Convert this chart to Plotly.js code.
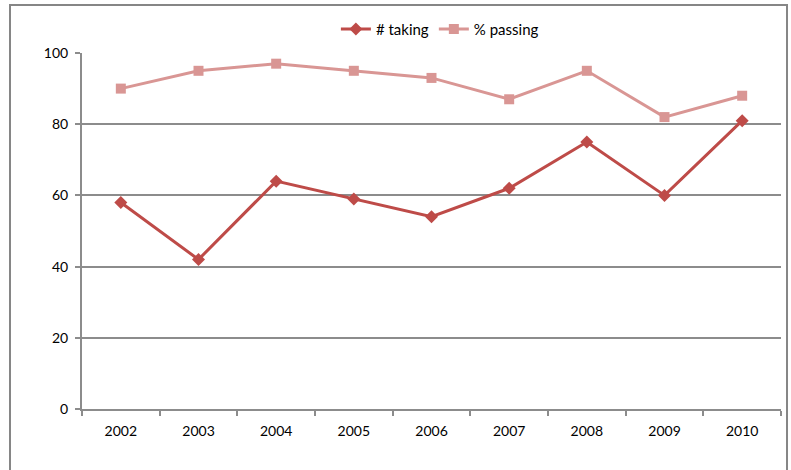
<!DOCTYPE html>
<html>
<head>
<meta charset="utf-8">
<script src="https://cdn.plot.ly/plotly-3.0.1.min.js"></script>
<style>html,body{margin:0;padding:0;background:#fff;}#chart{width:791px;height:470px;}</style>
</head>
<body>
<div id="chart"></div>
<script>
const years = ["2002","2003","2004","2005","2006","2007","2008","2009","2010"];
const taking = [58, 42, 64, 59, 54, 62, 75, 60, 81];
const passing = [90, 95, 97, 95, 93, 87, 95, 82, 88];
const yTicks = [0, 20, 40, 60, 80, 100];

const fontFam = "Lato, 'Open Sans', 'Liberation Sans', sans-serif";
const traces = [
  {
    x: years, y: taking, name: "# taking", type: "scatter", mode: "lines+markers",
    line: {color: "#BE4B48", width: 3},
    marker: {symbol: "diamond", size: 10, color: "#BE4B48"}
  },
  {
    x: years, y: passing, name: "% passing", type: "scatter", mode: "lines+markers",
    line: {color: "#D99694", width: 3},
    marker: {symbol: "square", size: 10, color: "#D99694"}
  }
];
const layout = {
  width: 791, height: 470,
  margin: {l: 82, r: 10, t: 53, b: 61},
  paper_bgcolor: "#ffffff", plot_bgcolor: "#ffffff",
  font: {family: fontFam, size: 14, color: "#000000"},
  showlegend: true,
  legend: {orientation: "h", x: 0.512, xanchor: "center", y: 1.067, yanchor: "middle",
           font: {family: fontFam, size: 15, color: "#000"}, itemwidth: 30, tracegroupgap: 0,
           bgcolor: "rgba(0,0,0,0)"},
  xaxis: {
    type: "category", range: [-0.5, 8.5], tickson: "boundaries",
    ticks: "outside", ticklen: 5, tickcolor: "#8c8c8c", tickwidth: 2,
    showline: true, linecolor: "#8c8c8c", linewidth: 2,
    showgrid: false, zeroline: false, fixedrange: true,
    tickfont: {family: fontFam, size: 14, color: "#000"}, ticklabelstandoff: 8
  },
  yaxis: {
    range: [0, 100], tickvals: yTicks, ticktext: yTicks.map(String),
    ticks: "outside", ticklen: 5, tickcolor: "#8c8c8c", tickwidth: 2,
    showline: true, linecolor: "#8c8c8c", linewidth: 2,
    showgrid: true, gridcolor: "#8c8c8c", gridwidth: 2, zeroline: false,
    tickfont: {family: fontFam, size: 14, color: "#000"}, ticklabelstandoff: 4
  },
  shapes: [
    {type: "rect", xref: "paper", yref: "paper", x0: -0.103, x1: 1.0086, y0: -0.18, y1: 1.1348,
     line: {color: "#868686", width: 2}, fillcolor: "rgba(0,0,0,0)", layer: "below"}
  ]
};
Plotly.newPlot("chart", traces, layout, {displayModeBar: false, staticPlot: true});
</script>
</body>
</html>
